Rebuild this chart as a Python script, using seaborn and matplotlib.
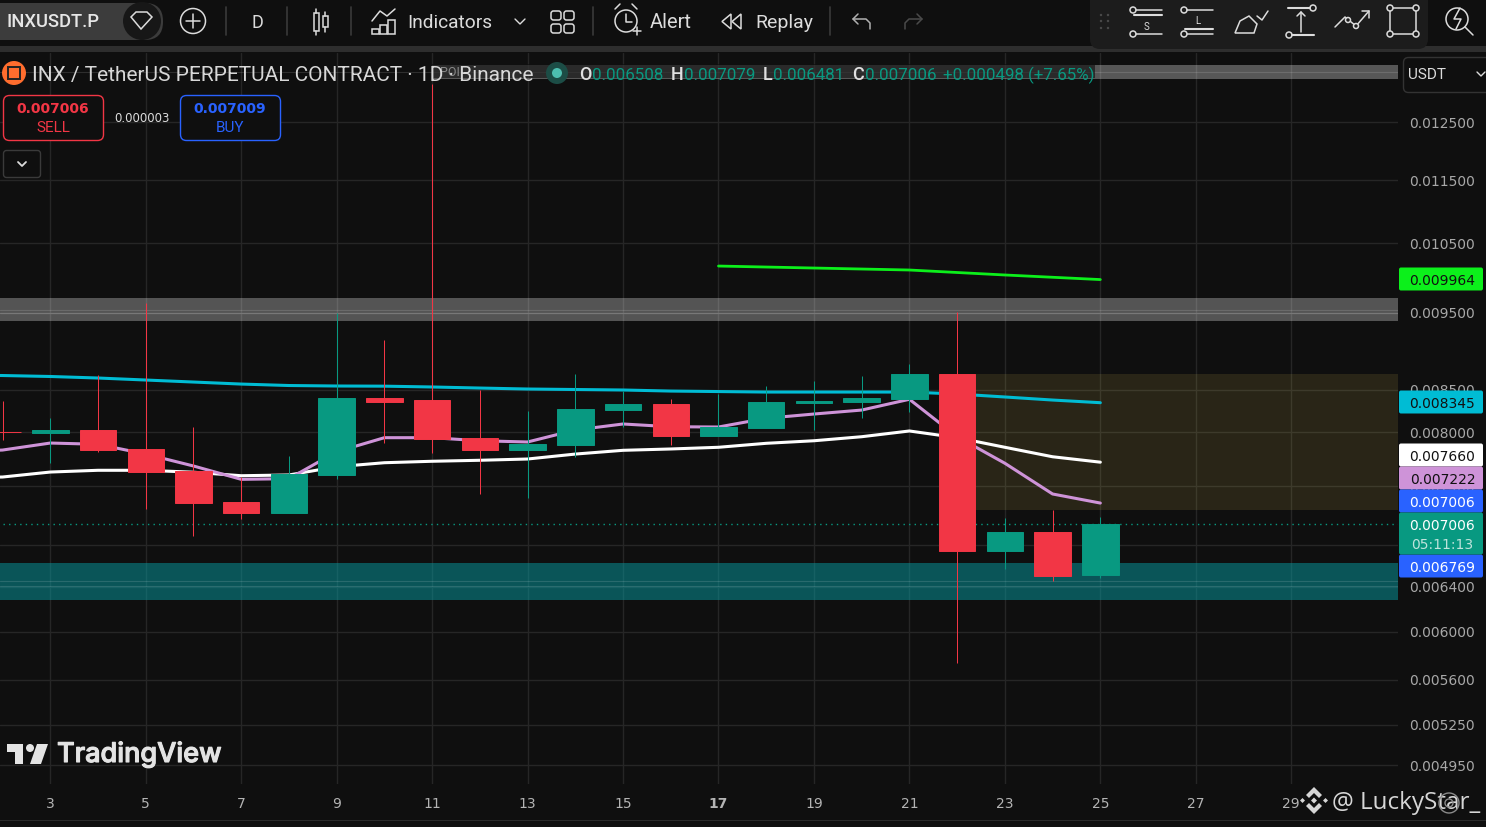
import pandas as pd
import numpy as np
import matplotlib
matplotlib.use('Agg')
import matplotlib.pyplot as plt
import matplotlib.patheffects as pe
import seaborn as sns
from matplotlib.patches import Circle, FancyBboxPatch, Polygon, Rectangle
from matplotlib.ticker import NullLocator
from matplotlib.transforms import ScaledTranslation

# ---- data ----
days = list(range(2, 26))
opens = [.008, .007988, .008023, .007807, .007563, .007233, .007119, .00752, .008401, .008377, .007931, .007795,
         .007852, .008257, .008329, .007954, .008046, .008341, .008353, .008389, .008697, .00674, .006927, .006508]
closes = [.007997, .008023, .007795, .007552, .007222, .007119, .00753, .008401, .008353, .00792, .007795, .007863,
          .008269, .008329, .007954, .008058, .008353, .008365, .008401, .008697, .00674, .006927, .006502, .007006]
highs = [.008365, .008163, .008684, .009633, .008058, .007498, .007728, .009495, .009133, .013205, .008499, .008246,
         .008697, .008486, .008389, .00845, .008548, .00861, .008672, .008823, .009509, .007068, .00715, .007079]
lows = [.007908, .007651, .007773, .00716, .006887, .007058, .007119, .007476, .007874, .007762, .007317, .007275,
        .007717, .008058, .007852, .007954, .008046, .008023, .008163, .008234, .005736, .006568, .006455, .006481]

ma_days = list(range(1, 26))
ma_cyan = [.008684, .008678, .008666, .008647, .008622, .008597, .008572, .008554, .008548, .008546, .008536, .008523, .008511,
           .008505, .008499, .008486, .00848, .008474, .008474, .008474, .008474, .00845, .008414, .008377, .008345]
ma_white = [.00749, .007498, .007552, .007571, .007571, .00755, .007512, .00752, .00761, .007654, .00767, .007681, .007695,
            .00775, .007792, .007807, .007826, .007871, .0079, .007946, .008012, .007935, .007826, .00772, .00766]
ma_pink = [.007773, .007795, .007874, .00786, .00775, .007618, .007473, .00748, .007776, .007935, .007935, .0079, .007886,
           .008023, .008093, .008061, .008058, .00816, .00821, .008257, .008386, .007946, .007648, .007317, .007222]
green_days = [17, 19, 21, 23, 25]
green_line = [.01016, .010131, .010102, .01003, .009964]

y_ticks = [.0125, .0115, .0105, .0095, .0085, .008, .0074, .0068, .0064, .006, .0056, .00525, .00495]
y_tick_labels = ['0.012500', '0.011500', '0.010500', '0.009500', '0.008500', '0.008000', '0.007400', '0.006800',
                 '0.006400', '0.006000', '0.005600', '0.005250', '0.004950']
x_ticks = [3, 5, 7, 9, 11, 13, 15, 17, 19, 21, 23, 25, 27, 29]
grey_zone = [.009387, .009703]
grey_zone_lines = [.009497, .009532]
teal_zone = [.006281, .006625]
teal_zone_lines = [.006406, .006452]
tan_zone = [.00715, .008697]
top_band = [.0133, .013571]
last_price = .007006

BG = '#0f0f0f'
UP = '#089981'
DOWN = '#F23645'
BLUE = '#2962FF'
FG = '#dcdcdc'
GRID = '#262626'

sns.set_theme(style='dark', rc={'figure.facecolor': BG, 'axes.facecolor': BG, 'savefig.facecolor': BG})
plt.rcParams['font.family'] = ['DejaVu Sans']

fig = plt.figure(figsize=(14.86, 8.28), dpi=100)
ax = fig.add_axes([0, 43 / 828, 1398 / 1486, 731 / 828])
ax.set_yscale('log')

# ---- zones ----
ax.axhspan(*grey_zone, color='white', alpha=.29, lw=0, zorder=1)
ax.axhspan(*teal_zone, color=(7 / 255, 155 / 255, 161 / 255), alpha=.5, lw=0, zorder=1)
ax.axhspan(*top_band, xmin=432 / 1398, color='white', alpha=.3, lw=0, zorder=1)
ax.add_patch(Rectangle((22, tan_zone[0]), 10, tan_zone[1] - tan_zone[0], color=(1, .88, .35), alpha=.11, lw=0, zorder=1))
for p in grey_zone_lines + teal_zone_lines:
    ax.axhline(p, color='white', alpha=.13, lw=.8, zorder=1.1)
ax.axhline(sum(top_band) / 2, color='white', alpha=.13, lw=.8, zorder=1.1)

# ---- moving averages ----
df_ma = pd.DataFrame({'day': ma_days, 'cyan': ma_cyan, 'white': ma_white, 'pink': ma_pink})
sns.lineplot(data=df_ma, x='day', y='cyan', color='#00BCD4', lw=2.2, ax=ax, zorder=2, estimator=None)
sns.lineplot(data=df_ma, x='day', y='white', color='white', lw=2.2, ax=ax, zorder=2, estimator=None)
sns.lineplot(data=df_ma, x='day', y='pink', color='#CE93D8', lw=2.2, ax=ax, zorder=2, estimator=None)
sns.lineplot(x=green_days, y=green_line, color='#0CF01B', lw=2, ax=ax, zorder=2, estimator=None)

# ---- candles ----
df = pd.DataFrame({'day': days, 'open': opens, 'close': closes, 'high': highs, 'low': lows})
df['color'] = np.where(df['close'] >= df['open'], UP, DOWN)
wicks = ax.vlines(df['day'], df['low'], df['high'], colors=df['color'], lw=.72, zorder=3)
wicks.set_snap(True)
bottoms = df[['open', 'close']].min(axis=1)
heights = (df['open'] - df['close']).abs()
ax.bar(df['day'], heights, bottom=bottoms, width=.765, color=df['color'], edgecolor=df['color'], lw=.7, zorder=4)

ax.axhline(last_price, xmin=3 / 1398, color=UP, lw=1, ls=(0, (1, 3)), zorder=2.5)

# ---- axes ----
ax.set_xlim(1.946, 31.237)
ax.set_ylim(.004819, .013808)
ax.set_xlabel('')
ax.set_ylabel('')
ax.yaxis.tick_right()
ax.set_yticks(y_ticks)
ax.set_yticklabels(y_tick_labels)
ax.yaxis.set_minor_locator(NullLocator())
ax.set_xticks(x_ticks)
ax.set_xticklabels([str(d) for d in x_ticks])
ax.tick_params(axis='y', length=0, pad=8, labelsize=10, labelcolor='#a8a8a8')
ax.tick_params(axis='x', length=0, pad=8.8, labelsize=10, labelcolor='#b4b4b4')
for lab in ax.get_yticklabels():
    lab.set_transform(lab.get_transform() + ScaledTranslation(0, 1 / 100, fig.dpi_scale_trans))
for lab, d in zip(ax.get_xticklabels(), x_ticks):
    if d == 17:
        lab.set_fontweight('bold')
ax.grid(True, color=GRID, lw=1)
ax.set_axisbelow(True)
for s in ax.spines.values():
    s.set_visible(False)

# ---- overlay in pixels for the interface around the chart ----
ov = fig.add_axes([0, 0, 1, 1], zorder=5)
ov.set_xlim(0, 1486)
ov.set_ylim(828, 0)
ov.axis('off')
ov.patch.set_alpha(0)


def ln(xs, ys, c=FG, lw=1.1, **kw):
    ov.plot(xs, ys, color=c, lw=lw, solid_capstyle='round', **kw)


def rbox(x, y, w, h, fc='none', ec='none', r=4, lw=1, z=2):
    ov.add_patch(FancyBboxPatch((x + r, y + r), w - 2 * r, h - 2 * r, boxstyle=f'round,pad={r},rounding_size={r}',
                                fc=fc, ec=ec, lw=lw, zorder=z))


def circ(x, y, r, fc='none', ec=FG, lw=1.1, z=3, alpha=None):
    ov.add_patch(Circle((x, y), r, fc=fc, ec=ec, lw=lw, zorder=z, alpha=alpha))


def txt(x, y, s, c=FG, size=12, ha='left', fam='Roboto', weight='normal', z=6):
    return ov.text(x, y + 1, s, color=c, fontsize=size, ha=ha, va='center', family=fam, fontweight=weight, zorder=z)


# toolbar background
ov.add_patch(Rectangle((0, 0), 1486, 47, fc=BG, ec='none', zorder=1))
ov.add_patch(Rectangle((0, 47), 1486, 6, fc='#2e2e2e', ec='none', zorder=1))
ov.add_patch(Rectangle((0, 821), 1486, 1.5, fc='#2a2a2a', ec='none', zorder=1))
rbox(-20, 4, 183, 37, fc='#3c3c3c', r=18)
circ(142, 22, 19, fc='#171717', ec='none')
txt(7, 21, 'INXUSDT.P', size=13.2, weight='medium', c='#e6e6e6')
ov.add_patch(Polygon([[131, 18], [136, 13], [147, 13], [152, 18], [141, 30]], fc='none', ec=FG, lw=1.1, zorder=4))
ln([141, 141], [18, 25], lw=1.6)
ln([138, 144], [20, 20], lw=1.2)
circ(193, 22, 12.5)
ln([186, 200], [22, 22])
ln([193, 193], [15, 29])
for x in [226, 287, 351, 593, 830]:
    ln([x, x], [8, 36], c='#3a3a3a', lw=1.2)
txt(257, 22, 'D', size=13, ha='center')
# candles icon
for x, y0, y1, t0, t1 in [(316, 14, 32, 10, 36), (325, 17, 28, 13, 33)]:
    ov.add_patch(Rectangle((x - 2.5, y0), 5, y1 - y0, fc='none', ec=FG, lw=1.1, zorder=3))
    ln([x, x], [t0, y0])
    ln([x, x], [y1, t1])
# indicators icon
ln([372, 380, 387, 395], [22, 12, 17, 10])
for x, y0 in [(372, 30), (380, 26), (388, 21)]:
    ov.add_patch(Rectangle((x, y0), 7, 35 - y0, fc='none', ec=FG, lw=1.1, zorder=3))
txt(407, 22, 'Indicators', size=13.8)
ln([515, 520, 525], [20, 25, 20], lw=1)
for x in [551, 564]:
    for y in [12, 25]:
        rbox(x, y, 10, 9, ec=FG, r=2.5, lw=1.1, z=3)
# alert icon
circ(626, 22, 11)
ln([626, 626, 632], [15, 23, 23])
ln([615, 620], [10, 5])
ln([637, 632], [10, 5])
ln([633, 641], [32, 32])
ln([637, 637], [28, 36])
txt(650, 22, 'Alert', size=14.5)
ov.add_patch(Polygon([[731, 15], [722, 22.5], [731, 30]], fc='none', ec=FG, lw=1.1, zorder=3))
ov.add_patch(Polygon([[741, 15], [732, 22.5], [741, 30]], fc='none', ec=FG, lw=1.1, zorder=3))
txt(755, 22, 'Replay', size=14)
ln([858, 853, 858], [15, 20, 25], c='#b0b0b0')
ln([853, 866, 870, 870], [20, 20, 24, 30], c='#b0b0b0')
ln([917, 922, 917], [15, 20, 25], c='#4a4a4a')
ln([922, 909, 905, 905], [20, 20, 24, 30], c='#4a4a4a')

# drawing panel at the top right
rbox(1090, -10, 338, 60, fc='#1c1c1c', r=10, z=2)
for x in [1101, 1108]:
    for y in [16, 22, 29]:
        circ(x, y, 1.2, fc='#4a4a4a', ec='none')
for ly, thick_y, label, label_y in [(1147, 16, 'S', 26), (1198, 30, 'L', 20)]:
    ln([ly - 11, ly + 15], [11, 11])
    ln([ly - 13, ly + 15], [thick_y, thick_y], lw=1.5)
    ln([ly - 11, ly + 15], [35, 35])
    circ(ly - 14, 11, 3)
    circ(ly - 14, 35, 3)
    txt(ly, label_y, label, size=7, ha='center')
# brush
ov.add_patch(Polygon([[1235, 34], [1240, 22], [1249, 17], [1257, 25], [1254, 34]], fc='none', ec=FG, lw=1.1, zorder=3))
ln([1257, 1262, 1268], [17, 21, 12])
# measure
ln([1288, 1310], [9, 9], lw=1.5)
ln([1292, 1314], [36, 36], lw=1.5)
ln([1301, 1301], [13, 33])
ln([1297, 1301, 1305], [17, 13, 17])
circ(1313, 9, 3)
circ(1289, 36, 3)
# trend
ln([1335, 1345, 1356, 1369], [28, 18, 27, 12])
ln([1362, 1369, 1369], [12, 12, 19])
circ(1348, 21, 2.5, fc='#1c1c1c')
circ(1356, 27, 2.5, fc='#1c1c1c')
# rectangle
ov.add_patch(Rectangle((1390, 9), 26, 26, fc='none', ec=FG, lw=1.1, zorder=3))
for cx in [1390, 1416]:
    for cy in [9, 35]:
        circ(cx, cy, 3, fc='#1c1c1c')
# search with a bolt
ov.add_patch(Circle((1457, 20), 11, fc='none', ec=FG, lw=1.1, zorder=3))
ln([1465, 1473], [28, 36])
ln([1460, 1454, 1461, 1456], [9, 20, 20, 30])

# symbol title and legend
circ(14, 74, 12, fc='#FF6D2E', ec='none')
ov.add_patch(Rectangle((8, 68), 12, 12, fc='none', ec='#222222', lw=1.4, zorder=4))
ln([11, 11, 14, 14, 17, 17], [77, 71, 71, 77, 77, 71], c='#222222', lw=1)
ov.add_patch(Rectangle((432, 65), 663, 14, fc=BG, alpha=.62, ec='none', zorder=3))
txt(440, 71, 'POI', c='#8a8a8a', size=9)
txt(32, 74, 'INX / TetherUS PERPETUAL CONTRACT · 1D · Binance', c='#d8d8d8', size=15)
circ(557, 74, 11, fc='#1c4d46', ec='none')
circ(557, 74, 5, fc='#4dbfb0', ec='none', z=4)
for x, lab in [(579, 'O'), (671, 'H'), (763, 'L'), (852, 'C')]:
    txt(x, 74, lab, size=13, weight='medium', c='#e0e0e0')
for x, val in [(592, '0.006508'), (684, '0.007079'), (773, '0.006481'), (865, '0.007006'),
               (943, '+0.000498 (+7.65%)')]:
    txt(x, 74, val, c=UP, size=12.2)

# sell / buy
rbox(3.5, 96.5, 100, 45, ec=DOWN, fc=BG, r=6, lw=1)
rbox(180.5, 96.5, 100, 45, ec=BLUE, fc=BG, r=6, lw=1)
txt(53, 108, '0.007006', c=DOWN, size=10, ha='center', fam='DejaVu Sans', weight='bold')
txt(53, 127, 'SELL', c=DOWN, size=11, ha='center')
txt(230, 108, '0.007009', c=BLUE, size=10, ha='center', fam='DejaVu Sans', weight='bold')
txt(230, 127, 'BUY', c=BLUE, size=11, ha='center')
txt(142, 118, '0.000003', c=FG, size=8.5, ha='center', fam='DejaVu Sans')
rbox(3.5, 151.5, 37, 27, ec='#3a3a3a', fc=BG, r=3, lw=1)
ln([18, 22, 26], [163, 167, 163], lw=1.3)

# USDT selector
rbox(1403.5, 58.5, 100, 35, ec='#333333', fc=BG, r=5, lw=1)
txt(1408, 74, 'USDT', size=11)
ln([1477, 1481, 1485], [73, 77, 73], lw=1)

# price tags
tag_y = [280, 403, 456, 479, 502, 567]
tag_text = ['0.009964', '0.008345', '0.007660', '0.007222', '0.007006', '0.006769']
tag_bg = ['#0CF01B', '#00BCD4', '#FFFFFF', '#CE93D8', BLUE, BLUE]
tag_fg = ['#111111', '#111111', '#111111', '#111111', 'white', 'white']
for yy, s, bg, fg_c in zip(tag_y, tag_text, tag_bg, tag_fg):
    rbox(1399, yy - 11.5, 84, 23, fc=bg, r=2)
    txt(1442.5, yy, s, c=fg_c, size=10, ha='center', fam='DejaVu Sans')
rbox(1399, 513.5, 84, 42, fc=UP, r=2)
txt(1442.5, 525, '0.007006', c='white', size=10, ha='center', fam='DejaVu Sans')
txt(1442.5, 544, '05:11:13', c='#bfe3dc', size=10, ha='center', fam='DejaVu Sans')

# TradingView logo
logo = '#e4e4e4'
ov.add_patch(Polygon([[7, 745], [23, 745], [23, 765], [15, 765], [15, 753], [7, 753]], fc=logo, ec='none', zorder=4))
circ(30, 749, 4, fc=logo, ec='none')
ov.add_patch(Polygon([[37, 745], [48, 745], [41, 765], [30, 765]], fc=logo, ec='none', zorder=4))
brand = txt(57, 755, 'TradingView', size=19.5, weight='medium', c=logo, fam='Inter')
brand.set_path_effects([pe.withStroke(linewidth=.8, foreground=logo)])

# watermark
wm = '#d6d6d6'
ov.add_patch(Polygon([[1314, 788], [1322, 796], [1319, 799], [1314, 794], [1309, 799], [1306, 796]], fc=wm, ec='none', zorder=6))
ov.add_patch(Polygon([[1314, 815], [1322, 807], [1319, 804], [1314, 809], [1309, 804], [1306, 807]], fc=wm, ec='none', zorder=6))
for cx, r in [(1314, 3), (1302.5, 2.5), (1325.5, 2.5)]:
    ov.add_patch(Polygon([[cx, 801.5 - r], [cx + r, 801.5], [cx, 801.5 + r], [cx - r, 801.5]], fc=wm, ec='none', zorder=6))
txt(1332, 802, '@ LuckyStar_', size=17.5, c=wm, fam='Open Sans')
circ(1449, 804, 10, fc='none', ec='#8a8a8a', lw=1, z=7)
circ(1449, 804, 4, fc='none', ec='#8a8a8a', lw=1, z=7)

fig.savefig('out.png', dpi=100)
